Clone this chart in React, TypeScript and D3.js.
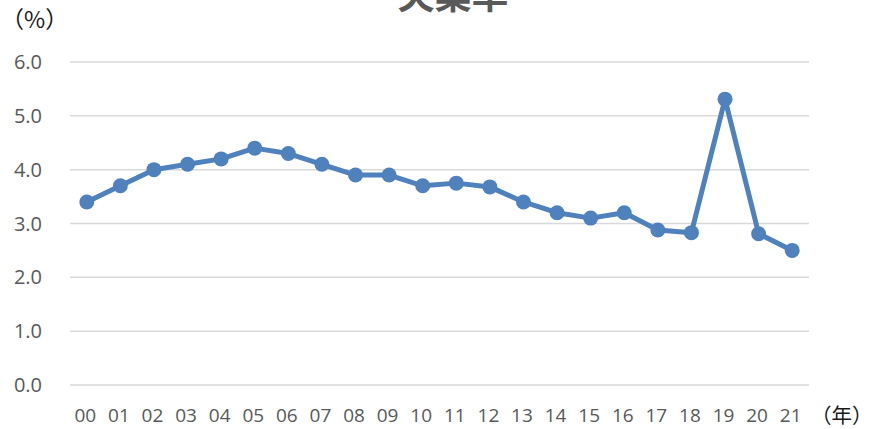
import React from "react";
import * as d3 from "d3";

const years = ["00","01","02","03","04","05","06","07","08","09","10","11","12","13","14","15","16","17","18","19","20","21"];
const rates = [3.4,3.7,4.0,4.1,4.2,4.4,4.3,4.1,3.9,3.9,3.7,3.75,3.68,3.4,3.2,3.1,3.2,2.88,2.83,5.31,2.81,2.5];
const yTicks = [0,1,2,3,4,5,6];
const title = "失業率";
const yUnit = "（%）";
const xUnit = "（年）";

const W = 871, H = 429;
const left = 70, right = 809, top = 62, bottom = 385;

export default function App() {
  const x = d3.scalePoint<string>().domain(years).range([left, right]).padding(0.5);
  const y = d3.scaleLinear().domain([0, 6]).range([bottom, top]);
  const line = d3.line<number>().x((_, i) => x(years[i])!).y((d) => y(d));
  const tickFont = "'Open Sans', 'Noto Sans', sans-serif";
  const cjk = "'Noto Sans CJK JP', sans-serif";
  return (
    <svg width={W} height={H} style={{ position: "absolute", left: 0, top: 0, background: "#fff" }}>
      <text x={453} y={9} textAnchor="middle" fontFamily={cjk} fontWeight="bold" fontSize={37} fill="#595959">{title}</text>
      {yTicks.map((t) => (
        <g key={t}>
          <line x1={left} x2={right} y1={y(t)} y2={y(t)} stroke="#d9d9d9" strokeWidth={1.5} />
          <text x={42} y={y(t) + 7} textAnchor="end" fontFamily={tickFont} fontSize={20} fill="#595959">{t.toFixed(1)}</text>
        </g>
      ))}
      {years.map((yr) => (
        <text key={yr} x={x(yr)! - 1.5} y={421.5} textAnchor="middle" fontFamily={tickFont} fontSize={19} fill="#595959">{yr}</text>
      ))}
      <path d={line(rates)!} fill="none" stroke="#4f81bd" strokeWidth={5} strokeLinejoin="round" />
      {rates.map((r, i) => (
        <circle key={i} cx={x(years[i])!} cy={y(r)} r={7.5} fill="#4f81bd" />
      ))}
      <text x={1} y={28} fontFamily={cjk} fontSize={23} fill="#1a1a1a">{yUnit}</text>
      <text x={811} y={423} fontFamily={cjk} fontSize={20.5} fill="#1a1a1a">{xUnit}</text>
    </svg>
  );
}
